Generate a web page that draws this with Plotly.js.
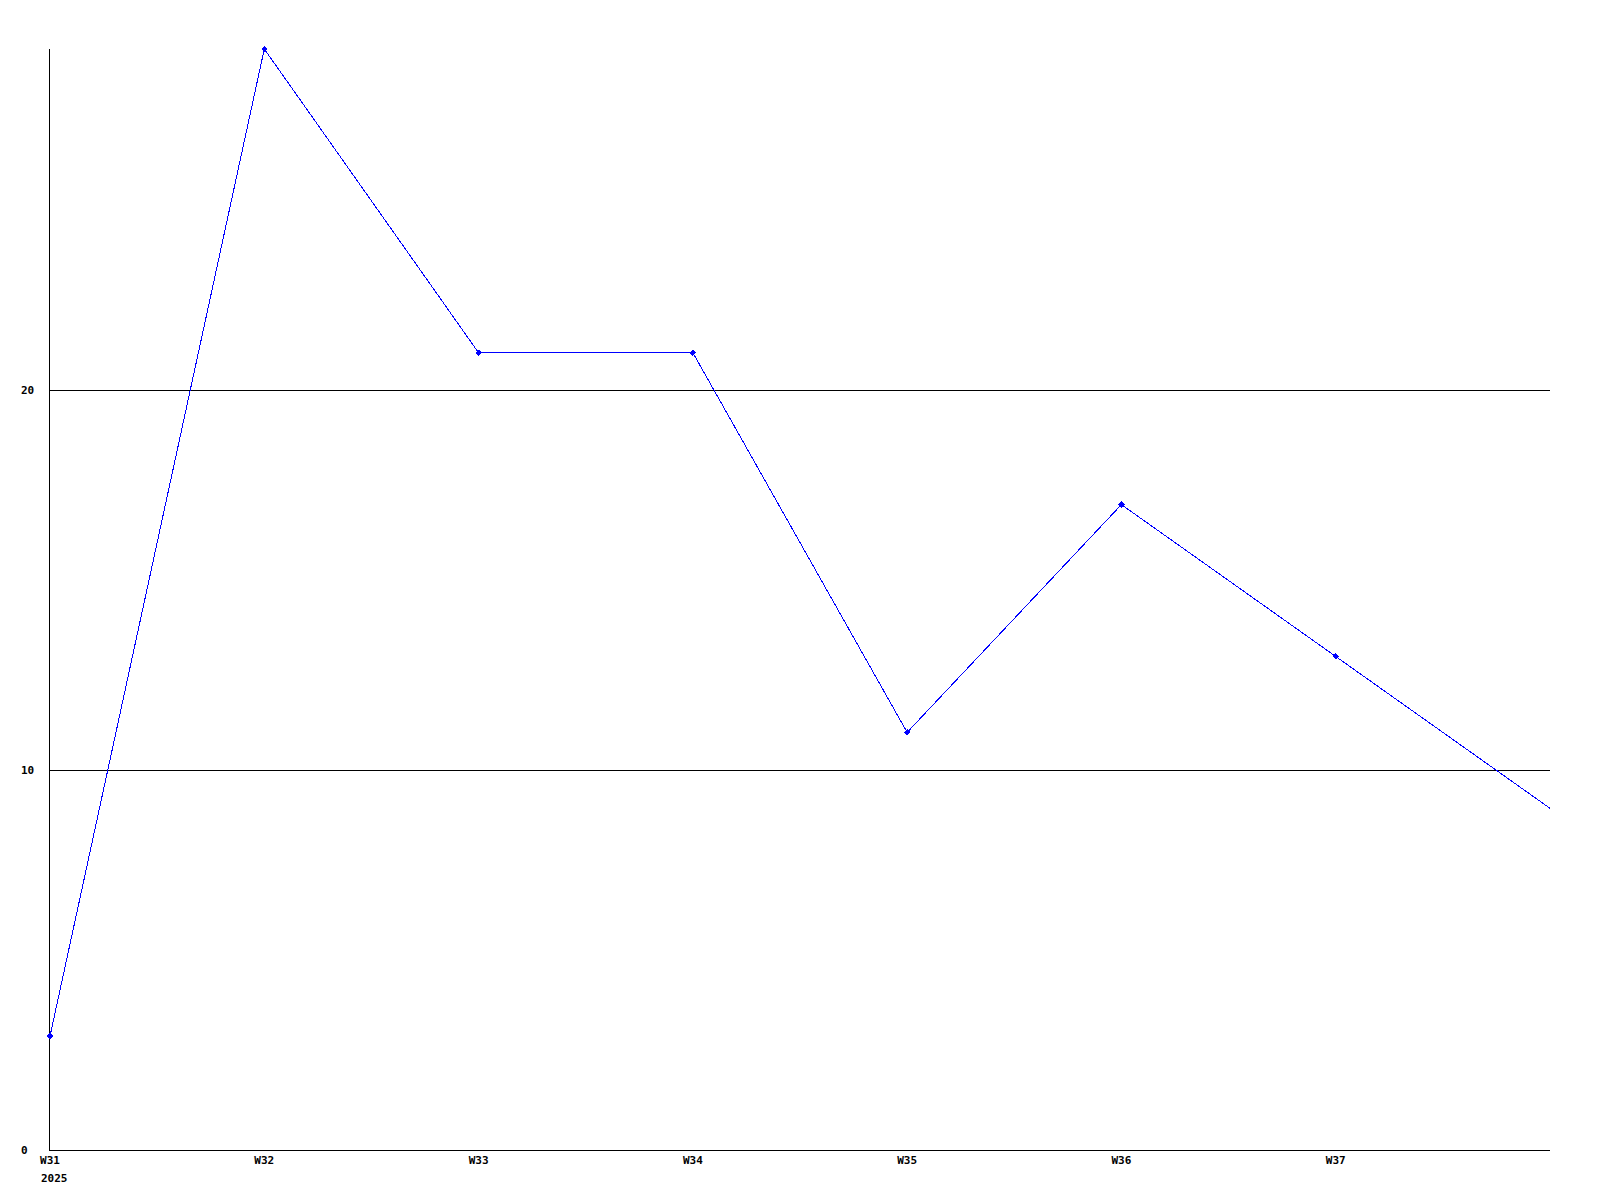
<!DOCTYPE html>
<html>
<head>
<meta charset="utf-8">
<script src="https://cdn.plot.ly/plotly-3.0.1.min.js"></script>
<style>
html, body { margin: 0; padding: 0; background: #fff; }
#chart { width: 1600px; height: 1200px; }
#chart .scatterlayer path, #chart .gridlayer path, #chart .xlines-above, #chart .ylines-above, #chart .xlines-below, #chart .ylines-below { shape-rendering: crispEdges; }
</style>
</head>
<body>
<div id="chart"></div>
<script>
const weeks = [31, 32, 33, 34, 35, 36, 37, 38];
const values = [3, 29, 21, 21, 11, 17, 13, 9];
const tickWeeks = [31, 32, 33, 34, 35, 36, 37];
const tickLabels = ["W31", "W32", "W33", "W34", "W35", "W36", "W37"];
const yearLabel = "2025";
const yTicks = [0, 10, 20];

const FONT = { family: "'DejaVu Sans Mono', 'Liberation Mono', monospace", size: 11, color: "#000", weight: "bold" };

const annotations = yTicks.map(v => ({
  xref: "paper", yref: "y", x: 0, y: v, xshift: -31,
  xanchor: "left", yanchor: "middle", text: String(v), showarrow: false, font: FONT
}));
annotations.push({
  xref: "x", yref: "paper", x: weeks[0], y: 0, xshift: -11, yshift: -20,
  xanchor: "left", yanchor: "top", text: yearLabel, showarrow: false, font: FONT
});

const nMarked = tickWeeks.length;

Plotly.newPlot("chart", [{
  x: weeks, y: values, type: "scatter", mode: "lines",
  line: { color: "#0000ff", width: 1 },
  hoverinfo: "skip"
}, {
  x: weeks.slice(0, nMarked), y: values.slice(0, nMarked), type: "scatter", mode: "markers",
  marker: { color: "#0000ff", size: 5, symbol: "diamond" },
  cliponaxis: false,
  hoverinfo: "skip"
}], {
  width: 1600, height: 1200,
  margin: { l: 50, r: 50, t: 49, b: 50, pad: 0 },
  paper_bgcolor: "#fff", plot_bgcolor: "#fff",
  showlegend: false,
  font: FONT,
  xaxis: {
    range: [31, 38], showgrid: false, zeroline: false,
    showline: true, linecolor: "#000", linewidth: 1, layer: "below traces",
    tickmode: "array", tickvals: tickWeeks, ticktext: tickLabels,
    ticks: "", tickfont: FONT
  },
  yaxis: {
    range: [0, 29], showgrid: true, gridcolor: "#000", gridwidth: 1,
    tickmode: "array", tickvals: yTicks.slice(1),
    zeroline: false, showline: true, linecolor: "#000", linewidth: 1, layer: "below traces",
    showticklabels: false, ticks: ""
  },
  annotations: annotations
}, { staticPlot: true });
</script>
</body>
</html>
